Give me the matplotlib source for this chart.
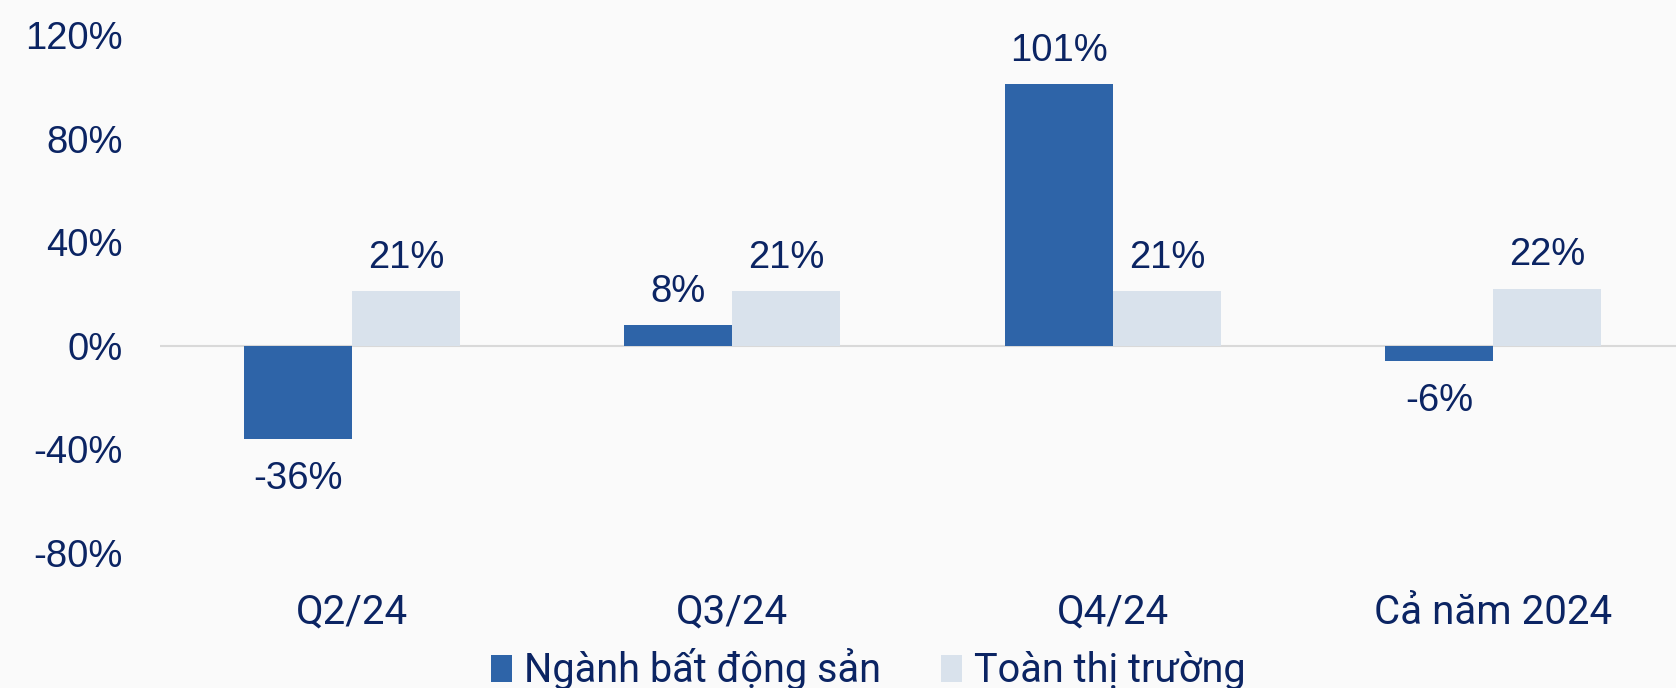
#!/usr/bin/env python3

import matplotlib
matplotlib.use("Agg")
import matplotlib.pyplot as plt
import numpy as np

# Dữ liệu
categories = ["Q2/24", "Q3/24", "Q4/24", "Cả năm 2024"]
series_names = ["Ngành bất động sản", "Toàn thị trường"]
bds_values = [-36, 8, 101, -6]
market_values = [21, 21, 21, 22]
yticks = [-80, -40, 0, 40, 80, 120]

dark_blue = "#2E64A8"
light_blue = "#D9E2EC"
text_color = "#0B2463"
num_font = ["Liberation Sans", "DejaVu Sans"]
cat_font = ["Liberation Sans Narrow", "Roboto", "DejaVu Sans"]


def main():
    fig = plt.figure(figsize=(16.76, 6.88), dpi=100, facecolor="#FAFAFA")
    ax = fig.add_axes([0.0957, 0.1968, 0.9043, 0.7519])
    ax.set_facecolor("none")

    x = np.arange(len(categories))
    w = 0.284
    b1 = ax.bar(x - w / 2, bds_values, w, color=dark_blue, label=series_names[0])
    b2 = ax.bar(x + w / 2, market_values, w, color=light_blue, label=series_names[1])

    # nhãn giá trị
    for bars, vals in [(b1, bds_values), (b2, market_values)]:
        for rect, v in zip(bars, vals):
            cx = rect.get_x() + rect.get_width() / 2
            off = 24 if v >= 0 else -29
            ax.annotate(f"{v}%", (cx, v), xytext=(0, off), textcoords="offset points",
                        ha="center", va="center", fontsize=27.5, color=text_color,
                        family=num_font)

    ax.set_xlim(-0.503, 3.48)
    ax.set_ylim(-80, 120)
    ax.set_yticks(yticks)
    ax.set_yticklabels([f"{t}%" for t in yticks], fontsize=27.5, color=text_color,
                       family=num_font)
    ax.tick_params(axis="y", length=0, pad=27)
    ax.set_xticks(x)
    ax.set_xticklabels(categories, fontsize=29, color=text_color, family=cat_font)
    ax.tick_params(axis="x", length=0, pad=29)

    for s in ax.spines.values():
        s.set_visible(False)
    ax.axhline(0, color="#D9D9D9", lw=1.5, zorder=0)

    leg = fig.legend(handles=[b1, b2], labels=series_names, loc="center",
                     bbox_to_anchor=(0.518, 0.027), ncol=2, frameon=False,
                     prop={"family": cat_font, "size": 28.5},
                     handlelength=0.55, handleheight=0.7, handletextpad=0.3,
                     columnspacing=1.5, borderaxespad=0)
    for t in leg.get_texts():
        t.set_color(text_color)

    fig.savefig("out.png", dpi=100, facecolor=fig.get_facecolor())


if __name__ == "__main__":
    main()
